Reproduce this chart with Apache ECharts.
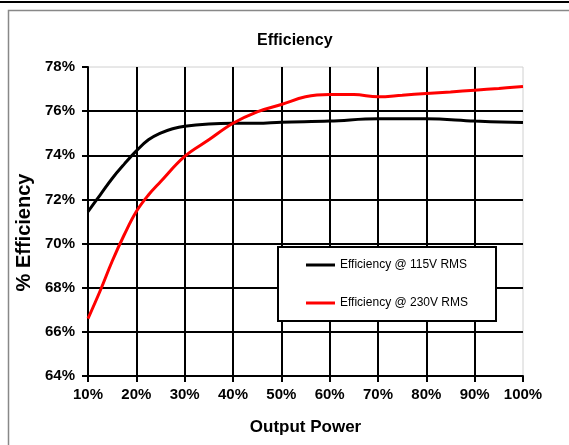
<!DOCTYPE html>
<html>
<head>
<meta charset="utf-8">
<script src="https://cdn.jsdelivr.net/npm/echarts@6/dist/echarts.min.js"></script>
<style>html,body{margin:0;padding:0;background:#fff}#c{width:569px;height:445px}</style>
</head>
<body>
<div id="c"></div>
<script>
// Output power (%) sample points
const power115 = [10, 12.5, 15, 17.5, 20, 22.5, 25, 27.5, 30, 35, 40, 45, 50, 60, 70, 80, 90, 100];
const eff115   = [71.45, 72.2, 72.95, 73.6, 74.2, 74.7, 75.0, 75.2, 75.32, 75.42, 75.45, 75.45, 75.5, 75.55, 75.65, 75.65, 75.55, 75.48];
const power230 = [10, 12.5, 15, 17.5, 20, 22.5, 25, 30, 35, 40, 45, 50, 55, 60, 65, 70, 75, 80, 85, 90, 95, 100];
const eff230   = [66.6, 67.85, 69.2, 70.4, 71.45, 72.2, 72.8, 73.95, 74.7, 75.45, 75.97, 76.3, 76.65, 76.75, 76.75, 76.65, 76.72, 76.8, 76.87, 76.95, 77.03, 77.12];
const seriesNames = ['Efficiency @ 115V RMS', 'Efficiency @ 230V RMS'];
const titleText = 'Efficiency';
const xTitle = 'Output Power';
const yTitle = '% Efficiency';

const pairs = (xs, ys) => xs.map((x, i) => [x, ys[i]]);
const font = 'Liberation Sans, Arial, sans-serif';

const chart = echarts.init(document.getElementById('c'));
chart.setOption({
  animation: false,
  backgroundColor: '#fff',
  title: {
    text: titleText, left: 252, top: 28,
    textStyle: { fontFamily: font, fontSize: 16, fontWeight: 'bold', color: '#000' }
  },
  graphic: [
    { type: 'line', shape: { x1: 0, y1: 2, x2: 569, y2: 2 }, style: { stroke: '#000', lineWidth: 2 }, silent: true },
    { type: 'rect', shape: { x: 8.5, y: 10.5, width: 620, height: 500 }, style: { fill: 'none', stroke: '#888', lineWidth: 1.5 }, silent: true }
  ],
  grid: { left: 88, right: 46, top: 67, bottom: 69, show: true, borderColor: '#d0d0d0', borderWidth: 1 },
  legend: {
    orient: 'vertical', left: 278, top: 247,
    backgroundColor: '#fff', borderColor: '#000', borderWidth: 2,
    padding: [12, 28, 12, 28], itemGap: 26, itemWidth: 29, itemHeight: 3,
    icon: 'rect',
    textStyle: { fontFamily: font, fontSize: 12, color: '#000' },
    data: seriesNames
  },
  xAxis: {
    type: 'value', min: 10, max: 100, interval: 10,
    name: xTitle, nameLocation: 'middle', nameGap: 43,
    nameTextStyle: { fontFamily: font, fontSize: 17, fontWeight: 'bold', color: '#000' },
    axisLine: { show: true, lineStyle: { color: '#000', width: 2 } },
    axisTick: { show: true, length: 6, lineStyle: { color: '#000', width: 2 } },
    axisLabel: { formatter: '{value}%', margin: 11, fontFamily: font, fontSize: 15, fontWeight: 'bold', color: '#000' },
    splitLine: { show: true, showMaxLine: false, lineStyle: { color: '#000', width: 2 } }
  },
  yAxis: {
    type: 'value', min: 64, max: 78, interval: 2,
    name: yTitle, nameLocation: 'middle', nameGap: 54, nameRotate: 90,
    nameTextStyle: { fontFamily: font, fontSize: 20, fontWeight: 'bold', color: '#000', padding: [0, 22, 0, 0] },
    axisLine: { show: true, lineStyle: { color: '#000', width: 2 } },
    axisTick: { show: true, length: 6, lineStyle: { color: '#000', width: 2 } },
    axisLabel: { formatter: '{value}%', margin: 13, fontFamily: font, fontSize: 15, fontWeight: 'bold', color: '#000' },
    splitLine: { show: true, showMaxLine: false, lineStyle: { color: '#000', width: 2 } }
  },
  series: [
    { name: seriesNames[0], type: 'line', smooth: 0.4, showSymbol: false, data: pairs(power115, eff115),
      lineStyle: { color: '#000', width: 3 }, itemStyle: { color: '#000' } },
    { name: seriesNames[1], type: 'line', smooth: 0.4, showSymbol: false, data: pairs(power230, eff230),
      lineStyle: { color: '#ff0000', width: 3 }, itemStyle: { color: '#ff0000' } }
  ]
});
</script>
</body>
</html>
